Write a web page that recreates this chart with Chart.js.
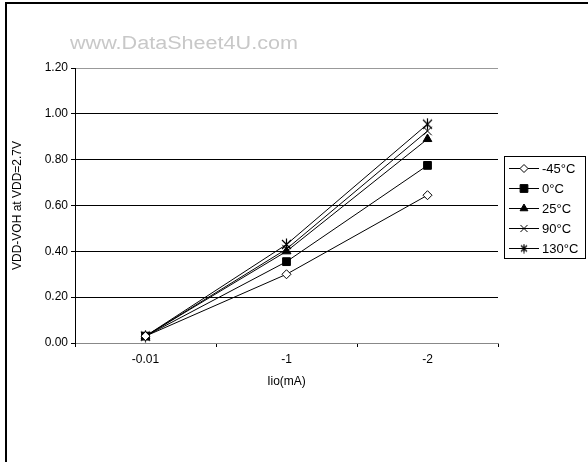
<!DOCTYPE html>
<html lang="en">
<head>
<meta charset="UTF-8">
<title>VDD-VOH vs Iio</title>
<script src="https://cdn.jsdelivr.net/npm/chart.js"></script>
<style>
  html, body { margin: 0; padding: 0; background: #fff; }
  #wrap { width: 588px; height: 462px; position: relative; }
</style>
</head>
<body>
<div id="wrap"><canvas id="chart" width="588" height="462"></canvas></div>
<script>
const categories = ['-0.01', '-1', '-2'];
const seriesNames = ['-45°C', '0°C', '25°C', '90°C', '130°C'];
const m45 = [0.03, 0.30, 0.645];
const c0 = [0.03, 0.355, 0.775];
const c25 = [0.03, 0.40, 0.89];
const c90 = [0.03, 0.41, 0.925];
const c130 = [0.03, 0.43, 0.955];
const yTicks = [0, 0.2, 0.4, 0.6, 0.8, 1.0, 1.2];

// asterisk marker: X plus a vertical stroke
function asterisk(size) {
  const c = document.createElement('canvas');
  c.width = size; c.height = size;
  const g = c.getContext('2d');
  const m = size / 2;
  g.strokeStyle = '#000'; g.lineWidth = 1.2;
  g.beginPath();
  g.moveTo(2, 2); g.lineTo(size - 2, size - 2);
  g.moveTo(size - 2, 2); g.lineTo(2, size - 2);
  g.moveTo(m, 0.5); g.lineTo(m, size - 0.5);
  g.stroke();
  return c;
}

const styles = [
  { pointStyle: 'rectRot', radius: 4.5, legendRadius: 4, bg: '#fff' },
  { pointStyle: 'rect', radius: 5.5, legendRadius: 5.5, bg: '#000' },
  { pointStyle: 'triangle', radius: 5, legendRadius: 4.5, bg: '#000' },
  { pointStyle: 'crossRot', radius: 6, legendRadius: 5, bg: '#000' },
  { pointStyle: asterisk(13), radius: 6, legendStyle: asterisk(10), legendRadius: 5, bg: '#000' }
];
const values = [m45, c0, c25, c90, c130];

const datasets = seriesNames.map((name, i) => ({
  label: name,
  data: values[i],
  borderColor: '#000',
  borderWidth: 1,
  backgroundColor: styles[i].bg,
  pointStyle: styles[i].pointStyle,
  pointRadius: styles[i].radius,
  pointBorderColor: '#000',
  pointBorderWidth: 1,
  pointBackgroundColor: styles[i].bg,
  tension: 0
}));

const decor = {
  id: 'decor',
  afterDraw(chart) {
    const ctx = chart.ctx;
    ctx.save();
    // outer frame (left and top)
    ctx.fillStyle = '#000';
    ctx.fillRect(5, 2, 2, 460);
    ctx.fillRect(5, 2, 583, 2);

    // watermark, stretched to the width seen in the original
    ctx.font = '18px Arial, "Liberation Sans", sans-serif';
    ctx.fillStyle = '#c8c8c8';
    ctx.textBaseline = 'middle';
    ctx.textAlign = 'left';
    const txt = 'www.DataSheet4U.com';
    const w = ctx.measureText(txt).width;
    ctx.save();
    ctx.translate(70, 44);
    ctx.scale(228 / w, 1);
    ctx.fillText(txt, 0, 0);
    ctx.restore();

    // legend box
    const bx = 504, by = 156, bw = 81, bh = 102;
    ctx.strokeStyle = '#000';
    ctx.lineWidth = 1;
    ctx.strokeRect(bx + 0.5, by + 0.5, bw, bh);
    ctx.font = '13px Arial, "Liberation Sans", sans-serif';
    chart.data.datasets.forEach((ds, i) => {
      const y = by + 12 + i * 20;
      ctx.strokeStyle = '#000';
      ctx.lineWidth = 1;
      ctx.beginPath();
      ctx.moveTo(509, y + 0.5);
      ctx.lineTo(539, y + 0.5);
      ctx.stroke();
      ctx.fillStyle = ds.pointBackgroundColor;
      Chart.helpers.drawPoint(ctx, {
        pointStyle: styles[i].legendStyle || ds.pointStyle,
        radius: styles[i].legendRadius,
        rotation: 0,
        borderWidth: 1
      }, 524, y + 0.5);
      ctx.fillStyle = '#000';
      ctx.fillText(ds.label, 542, y + 1);
    });
    ctx.restore();
  }
};

new Chart(document.getElementById('chart'), {
  type: 'line',
  data: { labels: categories, datasets: datasets },
  options: {
    responsive: false,
    animation: false,
    events: [],
    layout: { padding: { left: 0, right: 90, top: 68, bottom: 70 } },
    plugins: { legend: { display: false }, tooltip: { enabled: false } },
    scales: {
      x: {
        type: 'category',
        offset: true,
        afterFit(s) { s.height = 49; },
        grid: { drawOnChartArea: false, drawTicks: true, tickLength: 4, color: '#000', offset: true },
        border: { color: '#888', width: 1 },
        ticks: { color: '#000', font: { family: 'Arial', size: 12 }, padding: 5 },
        title: { display: true, text: 'Iio(mA)', color: '#000', font: { family: 'Arial', size: 12 }, padding: { top: 0, bottom: 3 } }
      },
      y: {
        min: 0,
        max: 1.2,
        afterFit(s) { s.width = 75; },
        afterBuildTicks(s) { s.ticks = yTicks.map(v => ({ value: v })); },
        grid: {
          color: c => (c.tick && Math.abs(c.tick.value - 1.2) < 1e-6) ? '#999' : '#000',
          tickColor: '#000',
          tickLength: 4,
          lineWidth: 1
        },
        border: { color: '#000', width: 1 },
        ticks: {
          color: '#000',
          font: { family: 'Arial', size: 12 },
          padding: 3,
          callback: v => Number(v).toFixed(2)
        },
        title: { display: true, text: 'VDD-VOH at VDD=2.7V', color: '#000', font: { family: 'Arial', size: 12 }, padding: { top: 10, bottom: 0 } }
      }
    }
  },
  plugins: [decor]
});
</script>
</body>
</html>
